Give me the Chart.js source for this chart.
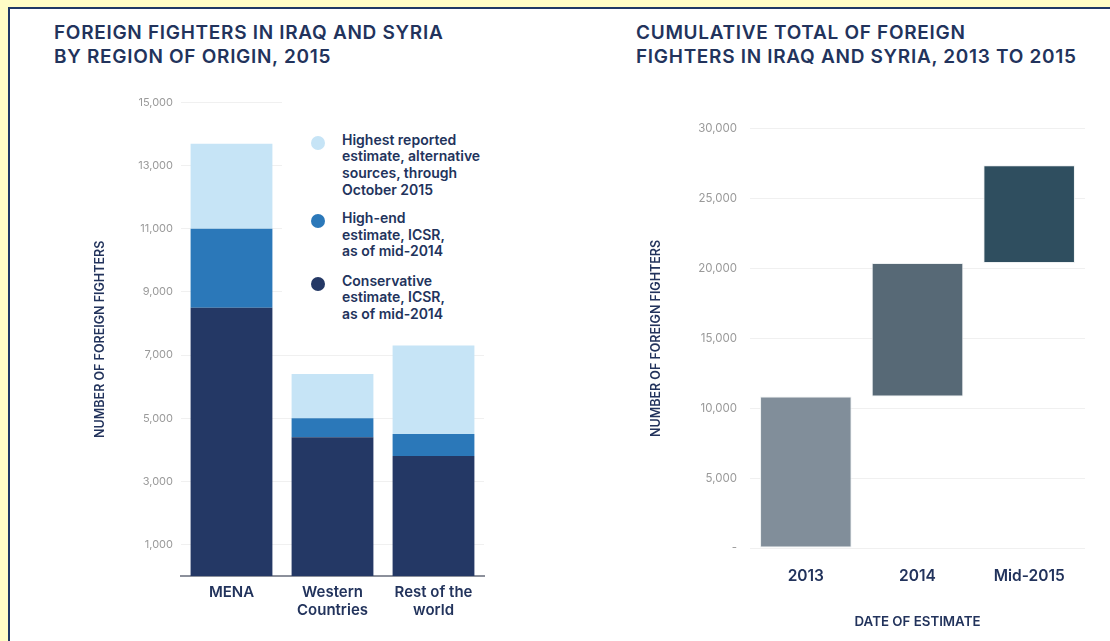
<!DOCTYPE html>
<html>
<head>
<meta charset="utf-8">
<script src="https://cdn.jsdelivr.net/npm/chart.js@4.4.0/dist/chart.umd.min.js"></script>
<style>
  html, body { margin: 0; padding: 0; }
  body { width: 1110px; height: 641px; background: #fffdc6; position: relative; overflow: hidden; font-family: Inter, "Open Sans", sans-serif; }
  #panel { position: absolute; left: 8px; top: 7px; right: 0; bottom: 0; background: #fff; border-left: 2px solid #1f3866; border-top: 2px solid #1f3866; }
  .title { position: absolute; color: #22335c; font-weight: 600; font-size: 19px; line-height: 24px; letter-spacing: 0.7px; white-space: nowrap; }
  canvas { position: absolute; }
  #legend { position: absolute; left: 282px; top: 92px; width: 208px; height: 243px; background: #fff; }
  .dot { position: absolute; width: 14px; height: 14px; border-radius: 50%; }
  .txt { position: absolute; left: 60px; color: #22335c; font-weight: 600; font-size: 14px; line-height: 16.8px; white-space: nowrap; }
</style>
</head>
<body>
<div id="panel"></div>
<div class="title" style="left:54px; top:21px;">FOREIGN FIGHTERS IN IRAQ AND SYRIA<br>BY REGION OF ORIGIN, 2015</div>
<div class="title" style="left:636px; top:21px;">CUMULATIVE TOTAL OF FOREIGN<br>FIGHTERS IN IRAQ AND SYRIA, 2013 TO 2015</div>
<canvas id="left" width="410" height="547" style="left:85px; top:88px; width:410px; height:547px;"></canvas>
<canvas id="right" width="460" height="526" style="left:640px; top:109px; width:460px; height:526px;"></canvas>
<div id="legend"></div>
<script>
// ---------- DATA ----------
const regions = ['MENA', ['Western', 'Countries'], ['Rest of the', 'world']];
const conservative = [8500, 4400, 3800];        // ICSR conservative, mid-2014
const highEnd = [11000, 5000, 4500];            // ICSR high-end, mid-2014
const highestReported = [13700, 6400, 7300];    // alternative sources, Oct 2015
const legendLabels = [
  ['Highest reported', 'estimate, alternative', 'sources, through', 'October 2015'],
  ['High-end', 'estimate, ICSR,', 'as of mid-2014'],
  ['Conservative', 'estimate, ICSR,', 'as of mid-2014']
];
const leftTicks = [1000, 3000, 5000, 7000, 9000, 11000, 13000, 15000];

const years = ['2013', '2014', 'Mid-2015'];
const cumulativeTotal = [10850, 20400, 27400];
const rightTicks = [0, 5000, 10000, 15000, 20000, 25000, 30000];

// ---------- STYLE ----------
const navy = '#22335c';
const leftColors = ['#243865', '#2b78b9', '#c6e4f6'];
const rightColors = ['#818e9a', '#576976', '#2f4e5f'];
const tickGray = '#9a9a9a';
const gridGray = '#f0f0f0';

// ---------- LEFT CHART ----------
const stackDark = conservative.slice();
const stackMid = highEnd.map((v, i) => v - conservative[i]);
const stackLight = highestReported.map((v, i) => v - highEnd[i]);

new Chart(document.getElementById('left'), {
  type: 'bar',
  data: {
    labels: regions,
    datasets: [
      { label: legendLabels[2].join(' '), data: stackDark, backgroundColor: leftColors[0] },
      { label: legendLabels[1].join(' '), data: stackMid, backgroundColor: leftColors[1] },
      { label: legendLabels[0].join(' '), data: stackLight, backgroundColor: leftColors[2] }
    ]
  },
  options: {
    responsive: false, animation: false,
    layout: { padding: { top: 11, right: 11, left: 0, bottom: 0 } },
    plugins: { legend: { display: false }, tooltip: { enabled: false } },
    datasets: { bar: { categoryPercentage: 1, barPercentage: 0.81, borderWidth: 0 } },
    scales: {
      x: {
        stacked: true,
        grid: { display: false, drawTicks: false },
        border: { display: true, color: '#8c909b', width: 2 },
        ticks: { color: navy, font: { family: 'Inter', size: 15, weight: '600', lineHeight: 1.2 }, padding: 7, maxRotation: 0 },
        afterFit: (s) => { s.height = 59; }
      },
      y: {
        stacked: true, min: 0, max: 15000,
        afterBuildTicks: (s) => { s.ticks = leftTicks.map(v => ({ value: v })); },
        grid: { color: gridGray, drawTicks: false, lineWidth: 1 },
        border: { display: false },
        ticks: { color: tickGray, font: { family: 'Inter', size: 11, weight: '400' }, padding: 8,
                 callback: (v) => v.toLocaleString('en-US') },
        title: { display: true, text: 'NUMBER OF FOREIGN FIGHTERS', color: navy,
                 font: { family: 'Inter', size: 12.5, weight: '600' }, padding: { top: 8, bottom: 0 } },
        afterFit: (s) => { s.width = 96; }
      }
    }
  }
});

// ---------- RIGHT CHART ----------
const floating = cumulativeTotal.map((v, i) => [i === 0 ? 0 : cumulativeTotal[i - 1], v]);

new Chart(document.getElementById('right'), {
  type: 'bar',
  data: {
    labels: years,
    datasets: [{ label: 'Cumulative total', data: floating, backgroundColor: rightColors,
                 borderColor: 'rgba(235,238,240,0.9)', borderWidth: 1, borderSkipped: false }]
  },
  options: {
    responsive: false, animation: false,
    layout: { padding: { top: 12, right: 15, left: 0, bottom: 0 } },
    plugins: { legend: { display: false }, tooltip: { enabled: false } },
    datasets: { bar: { categoryPercentage: 1, barPercentage: 0.82 } },
    scales: {
      x: {
        grid: { display: false, drawTicks: false },
        border: { display: false },
        ticks: { color: navy, font: { family: 'Inter', size: 15.5, weight: '600' }, padding: 19, maxRotation: 0 },
        title: { display: true, text: 'DATE OF ESTIMATE', color: navy,
                 font: { family: 'Inter', size: 13.3, weight: '600' }, padding: { top: 0, bottom: 5 } },
        afterFit: (s) => { s.height = 87; }
      },
      y: {
        min: 0, max: 30000,
        afterBuildTicks: (s) => { s.ticks = rightTicks.map(v => ({ value: v })); },
        grid: { color: gridGray, drawTicks: false, lineWidth: 1 },
        border: { display: false },
        ticks: { color: tickGray, font: { family: 'Inter', size: 11.5, weight: '400' }, padding: 13,
                 callback: (v) => v === 0 ? '-' : v.toLocaleString('en-US') },
        title: { display: true, text: 'NUMBER OF FOREIGN FIGHTERS', color: navy,
                 font: { family: 'Inter', size: 12.5, weight: '600' }, padding: { top: 9, bottom: 0 } },
        afterFit: (s) => { s.width = 110; }
      }
    }
  }
});

// ---------- LEGEND (HTML) ----------
const legend = document.getElementById('legend');
const legendColors = [leftColors[2], leftColors[1], leftColors[0]];
const textCenters = [48, 126.3, 189];   // first-line centres, relative to legend box
const dotCenters = [50.7, 129, 192];
legendLabels.forEach((lines, i) => {
  const dot = document.createElement('div');
  dot.className = 'dot';
  dot.style.left = '29px';
  dot.style.top = (dotCenters[i] - 7) + 'px';
  dot.style.background = legendColors[i];
  legend.appendChild(dot);
  const t = document.createElement('div');
  t.className = 'txt';
  t.style.top = (textCenters[i] - 8.4) + 'px';
  t.innerHTML = lines.join('<br>');
  legend.appendChild(t);
});
</script>
</body>
</html>
